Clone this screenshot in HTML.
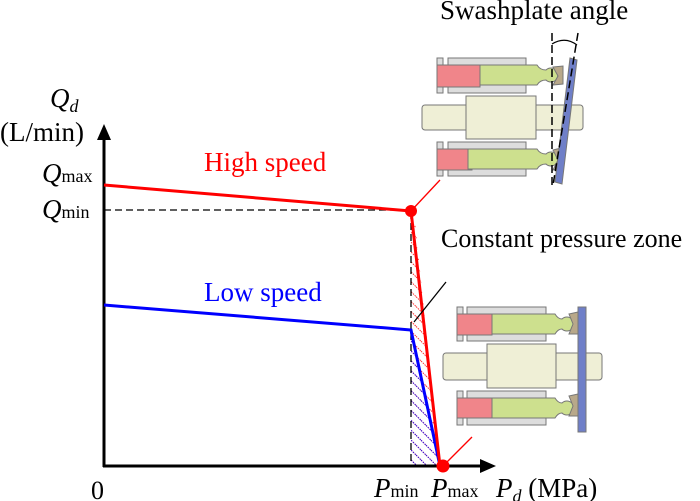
<!DOCTYPE html>
<html><head><meta charset="utf-8"><style>
html,body{margin:0;padding:0;background:#fff;}
svg{display:block;font-family:"Liberation Serif",serif;}
</style></head><body>
<svg width="700" height="501" viewBox="0 0 700 501" xmlns="http://www.w3.org/2000/svg">
<defs>
<pattern id="hr" width="7" height="7" patternUnits="userSpaceOnUse" patternTransform="rotate(-45)">
<line x1="0" y1="0" x2="0" y2="7" stroke="#f00" stroke-width="1.6" stroke-dasharray="1.5 1"/></pattern>
<pattern id="hb" width="7" height="7" patternUnits="userSpaceOnUse" patternTransform="rotate(-45)">
<line x1="0" y1="0" x2="0" y2="7" stroke="#00f" stroke-width="1.6" stroke-dasharray="1.5 1"/></pattern>
</defs>
<polygon points="411,212 414,212 440,466 411,466" fill="url(#hr)"/>
<polygon points="411,330 440,466 411,466" fill="url(#hb)"/>
<line x1="104" y1="210" x2="411" y2="210" stroke="#000" stroke-width="1.3" stroke-dasharray="7 4"/>
<line x1="411" y1="212" x2="411" y2="466" stroke="#000" stroke-width="1.3" stroke-dasharray="7 4"/>
<line x1="104" y1="467" x2="104" y2="138" stroke="#000" stroke-width="3"/>
<polygon points="104,124 97,140 111,140" fill="#000"/>
<line x1="103" y1="466" x2="480" y2="466" stroke="#000" stroke-width="3"/>
<polygon points="496,466 480,459 480,473" fill="#000"/>
<polyline points="104,305 411,330 440,466" fill="none" stroke="#00f" stroke-width="3"/>
<polyline points="104,185 411,211 440,466" fill="none" stroke="#f00" stroke-width="3"/>
<circle cx="411" cy="211" r="6" fill="#f00"/>
<circle cx="443" cy="466" r="6.5" fill="#f00"/>
<line x1="411" y1="211" x2="440" y2="180" stroke="#f00" stroke-width="1.3"/>
<line x1="443" y1="466" x2="472" y2="437" stroke="#f00" stroke-width="1.3"/>
<line x1="414" y1="322" x2="446" y2="282" stroke="#000" stroke-width="1.3"/>
<text x="50" y="107" font-size="27" font-style="italic">Q<tspan font-size="18" dy="5">d</tspan></text>
<text x="0" y="141" font-size="27">(L/min)</text>
<text x="42" y="182" font-size="27" font-style="italic">Q<tspan font-size="18" font-style="normal">max</tspan></text>
<text x="42" y="218" font-size="27" font-style="italic">Q<tspan font-size="18" font-style="normal">min</tspan></text>
<text x="204" y="171" font-size="27" fill="#f00">High speed</text>
<text x="204" y="301" font-size="27" fill="#00f">Low speed</text>
<text x="441" y="247" font-size="26">Constant pressure zone</text>
<text x="440" y="19" font-size="27">Swashplate angle</text>
<text x="91" y="499" font-size="26">0</text>
<text x="374" y="497" font-size="27" font-style="italic">P<tspan font-size="18" font-style="normal">min</tspan></text>
<text x="431" y="497" font-size="27" font-style="italic">P<tspan font-size="18" font-style="normal">max</tspan></text>
<text x="496" y="497" font-size="27"><tspan font-style="italic">P</tspan><tspan font-size="18" font-style="italic" dy="5">d</tspan><tspan dy="-5"> (MPa)</tspan></text>
<!-- top pump -->
<g stroke="#777" stroke-width="1">
<rect x="437" y="58" width="6" height="35" fill="#ddd"/>
<rect x="448" y="58" width="78" height="35" fill="#ddd"/>
<rect x="437" y="142" width="6" height="34" fill="#ddd"/>
<rect x="448" y="142" width="78" height="34" fill="#ddd"/>
<rect x="437" y="65" width="43" height="22" fill="#f0858a"/>
<path d="M480,65 H537 Q540,70 546,70 A7,7 0 1 1 546,80 Q540,80 537,85 H480 Z" fill="#cde08e"/>
<rect x="437" y="149" width="35" height="21" fill="#f0858a"/>
<path d="M468,149 H537 Q540,154 546,154 A7,7 0 1 1 546,164 Q540,164 537,169 H468 Z" fill="#cde08e"/>
<rect x="422" y="105" width="161" height="25" rx="3" fill="#efefd6"/>
<rect x="466" y="96" width="70" height="43" fill="#efefd6"/>
<polygon points="553,67 563,66 563,84 553,85 558,76" fill="#b8a88a"/>
<polygon points="553,150 561,148 561,168 553,170 558,160" fill="#b8a88a"/>
<polygon points="570,58 577,60 562,184 555,182" fill="#6f7fc8"/>
</g>
<line x1="552" y1="33" x2="552" y2="185" stroke="#000" stroke-width="1.5" stroke-dasharray="8 4"/>
<line x1="578" y1="33" x2="553" y2="185" stroke="#000" stroke-width="1.5" stroke-dasharray="8 4"/>
<path d="M552,44 Q565,36 577,45" fill="none" stroke="#000" stroke-width="1.2"/>
<!-- bottom pump -->
<g stroke="#777" stroke-width="1">
<rect x="457" y="307" width="6" height="34" fill="#ddd"/>
<rect x="467" y="307" width="79" height="34" fill="#ddd"/>
<rect x="457" y="391" width="6" height="34" fill="#ddd"/>
<rect x="467" y="391" width="79" height="34" fill="#ddd"/>
<rect x="457" y="314" width="35" height="21" fill="#f0858a"/>
<path d="M492,314 H555 Q558,319 562,319 A7,7 0 1 1 562,329 Q558,329 555,334 H492 Z" fill="#cde08e"/>
<rect x="457" y="398" width="35" height="20" fill="#f0858a"/>
<path d="M492,398 H555 Q558,403 562,403 A7,7 0 1 1 562,413 Q558,413 555,418 H492 Z" fill="#cde08e"/>
<rect x="443" y="353" width="159" height="27" rx="3" fill="#efefd6"/>
<rect x="487" y="344" width="69" height="44" fill="#efefd6"/>
<polygon points="569,314 578,312 578,334 569,334 573,324" fill="#b8a88a"/>
<polygon points="569,396 578,394 578,416 569,416 573,406" fill="#b8a88a"/>
<rect x="578" y="307" width="8" height="125" fill="#6f7fc8"/>
</g>
</svg>
</body></html>
